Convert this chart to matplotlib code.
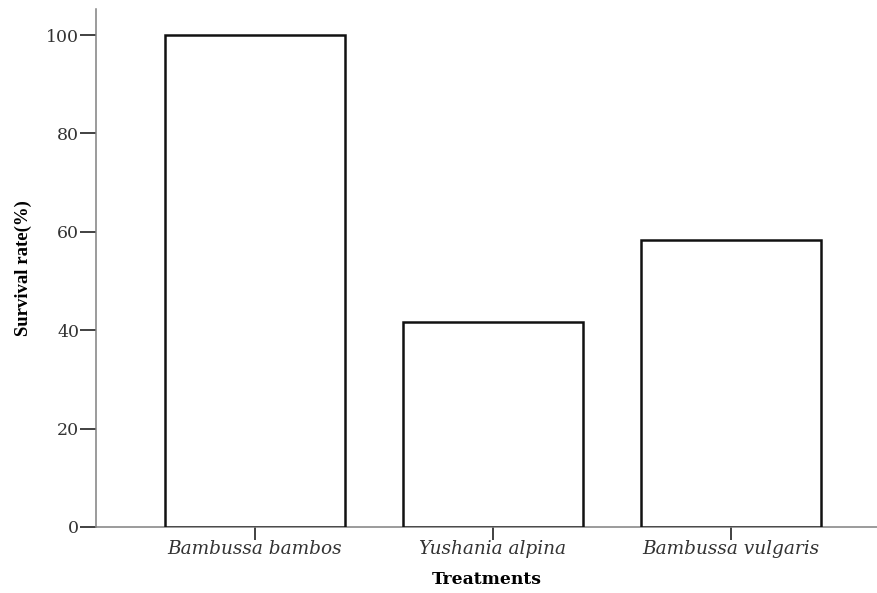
import matplotlib
matplotlib.use('Agg')
import matplotlib.pyplot as plt

treatments = ['Bambussa bambos', 'Yushania alpina', 'Bambussa vulgaris']
survival = [100.0, 41.67, 58.33]
yticks = [0, 20, 40, 60, 80, 100]

fig = plt.figure(figsize=(8.78, 5.93), dpi=100)
ax = fig.add_axes([0.1093, 0.1113, 0.8907, 0.8735])

pos = list(range(len(treatments)))
ax.bar(pos, survival, width=0.756, color='white', edgecolor='#111111', linewidth=1.8, zorder=3)

ax.set_xlim(-0.668, 2.618)
ax.set_ylim(0, 105.3)
ax.set_yticks(yticks)
ax.set_yticklabels([str(v) for v in yticks], family='DejaVu Serif', fontsize=12.5, color='#333333')
ax.set_xticks(pos)
ax.set_xticklabels(treatments, family='DejaVu Serif', style='italic', fontsize=13.3, color='#333333')

for side in ['top', 'right']:
    ax.spines[side].set_visible(False)
for side in ['left', 'bottom']:
    ax.spines[side].set_color('#808080')
    ax.spines[side].set_linewidth(1.1)

ax.tick_params(axis='y', length=11.5, width=1.3, color='#333333', pad=0.5)
ax.tick_params(axis='x', length=9, width=1.3, color='#333333', pad=0.5)

ax.set_ylabel('Survival rate(%)', family='Liberation Serif', fontweight='bold', fontsize=13.5, labelpad=10)
ax.set_xlabel('Treatments', family='DejaVu Serif', fontweight='bold', fontsize=12.3, labelpad=9)

plt.savefig('out.png', dpi=100)
